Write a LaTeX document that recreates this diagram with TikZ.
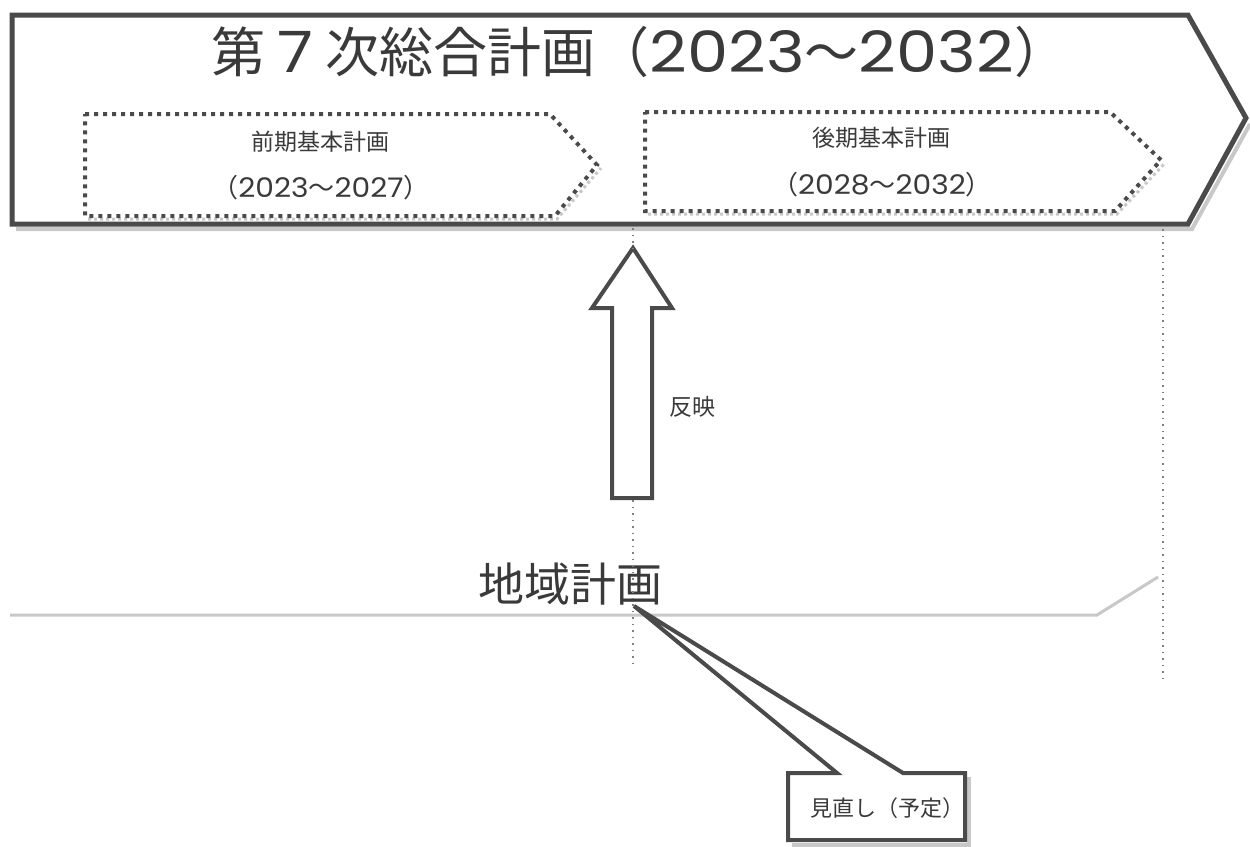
\documentclass[tikz,border=0pt]{standalone}
\usepackage{fontspec}
\setmainfont{Noto Sans CJK JP}
\newfontfamily\digfont{Poppins}
\newcommand\yr[3]{\scalebox{#3}[1]{\digfont\fontsize{#1}{#1}\selectfont #2}}
\definecolor{ink}{HTML}{4A4A4A}
\definecolor{shade}{HTML}{C8C8C8}
\definecolor{txt}{HTML}{3A3A3A}
\begin{document}
\begin{tikzpicture}[x=1pt,y=-1pt,
  frame/.style={draw=ink,line width=5pt,line join=miter,fill=white},
  dotbox/.style={draw=ink,line width=4pt,dash pattern=on 4pt off 5pt},
  dotshade/.style={draw=shade,line width=3pt,dash pattern=on 3pt off 3pt},
  guide/.style={draw=ink!70,line width=1.5pt,dash pattern=on 1.5pt off 5pt},
  label/.style={text=txt,inner sep=0pt},
  blockarrow/.style={draw=ink,line width=4pt,fill=white,line join=miter},
  callout/.style={draw=ink,line width=4pt,fill=white,line join=miter},
  baseline/.style={draw=shade,line width=3pt}]
\fill[white] (0,0) rectangle (1250,846);
\path[use as bounding box] (0,0) rectangle (1250,846);

% big arrow shadow and frame
\draw[draw=shade,line width=4pt] (16,229) -- (1192,229) -- (1250,124);
\draw[frame] (12,15) -- (1188,15) -- (1246,118) -- (1188,224) -- (12,224) -- cycle;
\node[label,font=\fontsize{54}{60}\selectfont] (title) at (640,52)
  {第\hspace{12pt}\yr{57}{7}{1.15}\hspace{12pt}次総合計画（\yr{57}{2023}{1.15}～\yr{57}{2032}{1.15}）};

% inner dotted arrows
\draw[dotshade] (88,219) -- (557,219) -- (601,168);
\draw[dotbox] (85,114) -- (550,114) -- (597,165) -- (555,216) -- (85,216) -- cycle;
\node[label,font=\fontsize{23}{26}\selectfont] (early) at (320,142) {前期基本計画};
\node[label,font=\fontsize{26}{28}\selectfont] (earlyy) at (321,188) {（\yr{27}{2023}{1.1}～\yr{27}{2027}{1.1}）};

\draw[dotshade] (648,214) -- (1117,214) -- (1165,163);
\draw[dotbox] (645,112) -- (1110,112) -- (1161,160) -- (1115,211) -- (645,211) -- cycle;
\node[label,font=\fontsize{23}{26}\selectfont] (late) at (881,138) {後期基本計画};
\node[label,font=\fontsize{26}{28}\selectfont] (latey) at (882,185) {（\yr{27}{2028}{1.1}～\yr{27}{2032}{1.1}）};

% base line of regional plan
\draw[baseline] (10,615) -- (1097,615) -- (1158,577);

% guides
\coordinate (g1top) at (633,228);
\coordinate (g1bot) at (633,668);
\coordinate (g2top) at (1163,229);
\coordinate (g2bot) at (1163,682);

% block arrow
\draw[blockarrow] (633,248) -- (672,308) -- (652,308) -- (652,498) -- (612,498) -- (612,308) -- (592,308) -- cycle;
\node[label,font=\fontsize{23}{26}\selectfont,anchor=west] (reflect) at (669,407) {反映};

% regional plan label
\node[label,font=\fontsize{46}{50}\selectfont] (region) at (570,584) {地域計画};

% callout
\draw[draw=shade,line width=4pt] (792,845) -- (969,845) -- (969,777);
\draw[callout] (788,773) -- (837,773) -- (634,606) -- (903,773) -- (965,773) -- (965,840) -- (788,840) -- cycle;
\node[label,font=\fontsize{22}{24}\selectfont] (review) at (887,808) {見直し（予定）};

\draw[guide] (g1top) -- (633,248);
\draw[guide] (633,500) -- (g1bot);
\draw[guide] (g2top) -- (g2bot);
\end{tikzpicture}
\end{document}
